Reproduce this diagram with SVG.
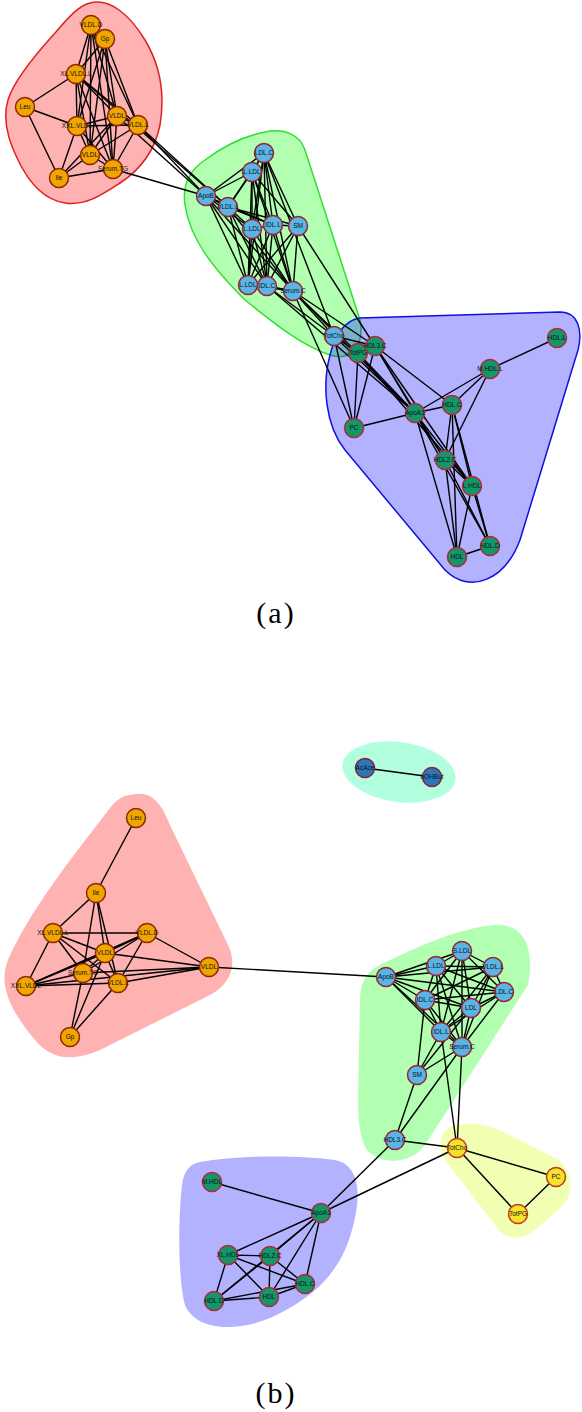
<svg xmlns="http://www.w3.org/2000/svg" width="582" height="1412" viewBox="0 0 582 1412">
<style>
.e line{stroke:#000;stroke-width:1.4}
.n circle{stroke-width:1.5}
.o circle{fill:#F0A500;stroke:#8B2A00}
.lb circle{fill:#5AB4E5;stroke:#9B2335}
.g circle{fill:#12966A;stroke:#B02A3A}
.y circle{fill:#F5E22A;stroke:#C0392B}
.db circle{fill:#2A78B8;stroke:#8B2040}
.n text{font-family:"Liberation Sans",Arial,sans-serif;font-size:6.5px;text-anchor:middle;fill:#111}
.cap{font-family:"Liberation Serif","Times New Roman",serif;font-size:30px;letter-spacing:2px;text-anchor:middle;fill:#000}
</style>
<rect width="582" height="1412" fill="#fff"/>
<g id="hulls">
<path d="M90,3 C110,-2 130,15 145,40 C160,65 165,95 160,125 C155,150 140,170 120,183 C100,196 85,206 65,203 C45,200 30,185 18,160 C8,140 2,120 8,100 C14,80 35,55 55,33 C68,18 78,6 90,3 Z" fill="#f00" fill-opacity="0.3" stroke="#e02020" stroke-width="1.5"/>
<path d="M265,132 C285,128 300,135 305,150 L360,320 C365,345 350,362 330,355 C300,345 270,320 245,300 C215,270 190,240 185,205 C182,185 190,170 205,160 C225,145 245,136 265,132 Z" fill="#0f0" fill-opacity="0.3" stroke="#30e030" stroke-width="1.5"/>
<path d="M360,318 L560,312 C578,312 583,330 578,350 L520,540 C505,580 470,595 445,570 L345,450 C325,425 322,385 330,355 C335,335 345,320 360,318 Z" fill="#00f" fill-opacity="0.3" stroke="#1010e0" stroke-width="1.5"/>
<ellipse cx="399" cy="772" rx="57" ry="30" transform="rotate(8 399 772)" fill="#00ff99" fill-opacity="0.3"/>
<path d="M130,795 C150,790 160,800 170,825 L228,945 C238,965 230,985 210,995 L100,1050 C70,1063 50,1058 35,1040 C10,1010 -2,985 8,960 C30,910 70,860 110,808 C116,800 122,796 130,795 Z" fill="#f00" fill-opacity="0.3"/>
<path d="M380,965 C420,945 460,928 495,925 C525,923 535,950 528,985 L425,1145 C410,1165 380,1165 367,1150 C360,1140 358,1120 358,1100 L360,1000 C360,982 368,970 380,965 Z" fill="#0f0" fill-opacity="0.3"/>
<path d="M450,1127 C470,1120 490,1125 510,1135 L555,1158 C575,1170 575,1195 560,1208 L535,1230 C520,1243 502,1238 495,1225 L445,1160 C437,1148 440,1132 450,1127 Z" fill="#ccff00" fill-opacity="0.3"/>
<path d="M200,1162 C240,1155 300,1155 335,1160 C360,1165 362,1195 352,1230 C340,1275 310,1300 270,1318 C235,1333 195,1330 185,1305 C178,1280 178,1220 182,1185 C184,1170 190,1164 200,1162 Z" fill="#00f" fill-opacity="0.3"/>
</g>
<g id="edges" class="e">
<line x1="91" y1="25" x2="105" y2="39"/><line x1="91" y1="25" x2="76" y2="74"/><line x1="91" y1="25" x2="77" y2="126"/><line x1="91" y1="25" x2="117" y2="116"/><line x1="91" y1="25" x2="138" y2="125"/><line x1="91" y1="25" x2="90" y2="155"/><line x1="91" y1="25" x2="113" y2="169"/>
<line x1="105" y1="39" x2="76" y2="74"/><line x1="105" y1="39" x2="77" y2="126"/><line x1="105" y1="39" x2="117" y2="116"/><line x1="105" y1="39" x2="138" y2="125"/><line x1="105" y1="39" x2="90" y2="155"/><line x1="105" y1="39" x2="113" y2="169"/>
<line x1="76" y1="74" x2="77" y2="126"/><line x1="76" y1="74" x2="117" y2="116"/><line x1="76" y1="74" x2="138" y2="125"/><line x1="76" y1="74" x2="90" y2="155"/><line x1="76" y1="74" x2="113" y2="169"/>
<line x1="77" y1="126" x2="117" y2="116"/><line x1="77" y1="126" x2="138" y2="125"/><line x1="77" y1="126" x2="90" y2="155"/><line x1="77" y1="126" x2="113" y2="169"/>
<line x1="117" y1="116" x2="138" y2="125"/><line x1="117" y1="116" x2="90" y2="155"/><line x1="117" y1="116" x2="113" y2="169"/>
<line x1="138" y1="125" x2="90" y2="155"/><line x1="138" y1="125" x2="113" y2="169"/><line x1="90" y1="155" x2="113" y2="169"/>
<line x1="25" y1="107" x2="76" y2="74"/><line x1="25" y1="107" x2="77" y2="126"/><line x1="25" y1="107" x2="59" y2="178"/>
<line x1="59" y1="178" x2="77" y2="126"/><line x1="59" y1="178" x2="90" y2="155"/><line x1="59" y1="178" x2="113" y2="169"/><line x1="59" y1="178" x2="117" y2="116"/>
<line x1="138" y1="125" x2="206" y2="196"/><line x1="138" y1="125" x2="228" y2="207"/><line x1="117" y1="116" x2="206" y2="196"/><line x1="76" y1="74" x2="228" y2="207"/><line x1="113" y1="169" x2="206" y2="196"/>
<line x1="264" y1="153" x2="252" y2="172"/><line x1="264" y1="153" x2="206" y2="196"/><line x1="264" y1="153" x2="228" y2="207"/><line x1="264" y1="153" x2="252" y2="229"/><line x1="264" y1="153" x2="273" y2="225"/><line x1="264" y1="153" x2="248" y2="285"/><line x1="264" y1="153" x2="267" y2="286"/><line x1="264" y1="153" x2="293" y2="291"/>
<line x1="252" y1="172" x2="206" y2="196"/><line x1="252" y1="172" x2="228" y2="207"/><line x1="252" y1="172" x2="252" y2="229"/><line x1="252" y1="172" x2="273" y2="225"/><line x1="252" y1="172" x2="248" y2="285"/><line x1="252" y1="172" x2="267" y2="286"/><line x1="252" y1="172" x2="293" y2="291"/>
<line x1="206" y1="196" x2="228" y2="207"/><line x1="206" y1="196" x2="252" y2="229"/><line x1="206" y1="196" x2="273" y2="225"/><line x1="206" y1="196" x2="248" y2="285"/><line x1="206" y1="196" x2="267" y2="286"/><line x1="206" y1="196" x2="293" y2="291"/>
<line x1="228" y1="207" x2="252" y2="229"/><line x1="228" y1="207" x2="273" y2="225"/><line x1="228" y1="207" x2="248" y2="285"/><line x1="228" y1="207" x2="267" y2="286"/><line x1="228" y1="207" x2="293" y2="291"/>
<line x1="252" y1="229" x2="273" y2="225"/><line x1="252" y1="229" x2="248" y2="285"/><line x1="252" y1="229" x2="267" y2="286"/><line x1="252" y1="229" x2="293" y2="291"/>
<line x1="273" y1="225" x2="248" y2="285"/><line x1="273" y1="225" x2="267" y2="286"/><line x1="273" y1="225" x2="293" y2="291"/>
<line x1="248" y1="285" x2="267" y2="286"/><line x1="248" y1="285" x2="293" y2="291"/><line x1="267" y1="286" x2="293" y2="291"/>
<line x1="298" y1="226" x2="264" y2="153"/><line x1="298" y1="226" x2="252" y2="172"/><line x1="298" y1="226" x2="273" y2="225"/><line x1="298" y1="226" x2="228" y2="207"/><line x1="298" y1="226" x2="248" y2="285"/><line x1="298" y1="226" x2="267" y2="286"/><line x1="298" y1="226" x2="293" y2="291"/><line x1="298" y1="226" x2="375" y2="346"/>
<line x1="264" y1="153" x2="334" y2="336"/><line x1="293" y1="291" x2="334" y2="336"/><line x1="293" y1="291" x2="358" y2="353"/><line x1="293" y1="291" x2="375" y2="346"/><line x1="293" y1="291" x2="415" y2="413"/><line x1="267" y1="286" x2="415" y2="413"/><line x1="267" y1="286" x2="334" y2="336"/><line x1="293" y1="291" x2="354" y2="428"/>
<line x1="334" y1="336" x2="358" y2="353"/><line x1="334" y1="336" x2="375" y2="346"/><line x1="334" y1="336" x2="354" y2="428"/><line x1="334" y1="336" x2="415" y2="413"/><line x1="358" y1="353" x2="375" y2="346"/><line x1="358" y1="353" x2="354" y2="428"/><line x1="375" y1="346" x2="354" y2="428"/><line x1="375" y1="346" x2="415" y2="413"/><line x1="375" y1="346" x2="452" y2="405"/><line x1="375" y1="346" x2="445" y2="460"/><line x1="358" y1="353" x2="415" y2="413"/><line x1="358" y1="353" x2="472" y2="486"/><line x1="375" y1="346" x2="472" y2="486"/>
<line x1="415" y1="413" x2="490" y2="369"/><line x1="415" y1="413" x2="452" y2="405"/><line x1="415" y1="413" x2="354" y2="428"/><line x1="415" y1="413" x2="445" y2="460"/><line x1="415" y1="413" x2="472" y2="486"/><line x1="415" y1="413" x2="490" y2="546"/><line x1="415" y1="413" x2="457" y2="557"/>
<line x1="490" y1="369" x2="557" y2="338"/><line x1="490" y1="369" x2="452" y2="405"/><line x1="490" y1="369" x2="445" y2="460"/>
<line x1="452" y1="405" x2="445" y2="460"/><line x1="452" y1="405" x2="472" y2="486"/><line x1="452" y1="405" x2="490" y2="546"/><line x1="452" y1="405" x2="457" y2="557"/>
<line x1="445" y1="460" x2="472" y2="486"/><line x1="445" y1="460" x2="490" y2="546"/><line x1="445" y1="460" x2="457" y2="557"/>
<line x1="472" y1="486" x2="490" y2="546"/><line x1="472" y1="486" x2="457" y2="557"/><line x1="490" y1="546" x2="457" y2="557"/>
<line x1="365" y1="768" x2="432" y2="777"/>
<line x1="136" y1="818" x2="96" y2="893"/><line x1="96" y1="893" x2="53" y2="933"/><line x1="96" y1="893" x2="83" y2="973"/><line x1="96" y1="893" x2="105" y2="953"/><line x1="96" y1="893" x2="118" y2="983"/>
<line x1="53" y1="933" x2="147" y2="933"/><line x1="53" y1="933" x2="105" y2="953"/><line x1="53" y1="933" x2="118" y2="983"/><line x1="53" y1="933" x2="83" y2="973"/><line x1="53" y1="933" x2="26" y2="986"/>
<line x1="147" y1="933" x2="105" y2="953"/><line x1="147" y1="933" x2="118" y2="983"/><line x1="147" y1="933" x2="209" y2="967"/><line x1="147" y1="933" x2="83" y2="973"/><line x1="147" y1="933" x2="26" y2="986"/>
<line x1="105" y1="953" x2="209" y2="967"/><line x1="105" y1="953" x2="26" y2="986"/><line x1="105" y1="953" x2="83" y2="973"/><line x1="105" y1="953" x2="70" y2="1037"/><line x1="105" y1="953" x2="118" y2="983"/>
<line x1="83" y1="973" x2="209" y2="967"/><line x1="83" y1="973" x2="26" y2="986"/><line x1="83" y1="973" x2="70" y2="1037"/>
<line x1="26" y1="986" x2="209" y2="967"/><line x1="26" y1="986" x2="118" y2="983"/><line x1="118" y1="983" x2="209" y2="967"/><line x1="118" y1="983" x2="70" y2="1037"/>
<line x1="209" y1="967" x2="386" y2="977"/>
<line x1="462" y1="951" x2="436" y2="966"/><line x1="462" y1="951" x2="493" y2="967"/><line x1="462" y1="951" x2="386" y2="977"/><line x1="462" y1="951" x2="504" y2="992"/><line x1="462" y1="951" x2="425" y2="1000"/><line x1="462" y1="951" x2="471" y2="1008"/><line x1="462" y1="951" x2="441" y2="1032"/><line x1="462" y1="951" x2="462" y2="1047"/>
<line x1="436" y1="966" x2="493" y2="967"/><line x1="436" y1="966" x2="386" y2="977"/><line x1="436" y1="966" x2="504" y2="992"/><line x1="436" y1="966" x2="425" y2="1000"/><line x1="436" y1="966" x2="471" y2="1008"/><line x1="436" y1="966" x2="441" y2="1032"/><line x1="436" y1="966" x2="462" y2="1047"/>
<line x1="493" y1="967" x2="386" y2="977"/><line x1="493" y1="967" x2="504" y2="992"/><line x1="493" y1="967" x2="425" y2="1000"/><line x1="493" y1="967" x2="471" y2="1008"/><line x1="493" y1="967" x2="441" y2="1032"/><line x1="493" y1="967" x2="462" y2="1047"/>
<line x1="386" y1="977" x2="504" y2="992"/><line x1="386" y1="977" x2="425" y2="1000"/><line x1="386" y1="977" x2="471" y2="1008"/><line x1="386" y1="977" x2="441" y2="1032"/><line x1="386" y1="977" x2="462" y2="1047"/>
<line x1="504" y1="992" x2="425" y2="1000"/><line x1="504" y1="992" x2="471" y2="1008"/><line x1="504" y1="992" x2="441" y2="1032"/><line x1="504" y1="992" x2="462" y2="1047"/>
<line x1="425" y1="1000" x2="471" y2="1008"/><line x1="425" y1="1000" x2="441" y2="1032"/><line x1="425" y1="1000" x2="462" y2="1047"/>
<line x1="471" y1="1008" x2="441" y2="1032"/><line x1="471" y1="1008" x2="462" y2="1047"/><line x1="441" y1="1032" x2="462" y2="1047"/>
<line x1="417" y1="1075" x2="425" y2="1000"/><line x1="417" y1="1075" x2="441" y2="1032"/><line x1="417" y1="1075" x2="462" y2="1047"/><line x1="417" y1="1075" x2="471" y2="1008"/><line x1="417" y1="1075" x2="395" y2="1140"/>
<line x1="395" y1="1140" x2="462" y2="1047"/><line x1="441" y1="1032" x2="457" y2="1148"/><line x1="462" y1="1047" x2="457" y2="1148"/><line x1="395" y1="1140" x2="457" y2="1148"/><line x1="395" y1="1140" x2="321" y2="1213"/><line x1="457" y1="1148" x2="321" y2="1213"/>
<line x1="457" y1="1148" x2="556" y2="1177"/><line x1="457" y1="1148" x2="518" y2="1214"/><line x1="556" y1="1177" x2="518" y2="1214"/>
<line x1="212" y1="1182" x2="321" y2="1213"/><line x1="321" y1="1213" x2="228" y2="1255"/><line x1="321" y1="1213" x2="270" y2="1256"/><line x1="321" y1="1213" x2="305" y2="1284"/><line x1="321" y1="1213" x2="269" y2="1297"/><line x1="321" y1="1213" x2="214" y2="1301"/>
<line x1="228" y1="1255" x2="270" y2="1256"/><line x1="228" y1="1255" x2="305" y2="1284"/><line x1="228" y1="1255" x2="269" y2="1297"/><line x1="228" y1="1255" x2="214" y2="1301"/>
<line x1="270" y1="1256" x2="214" y2="1301"/><line x1="270" y1="1256" x2="269" y2="1297"/><line x1="270" y1="1256" x2="305" y2="1284"/>
<line x1="305" y1="1284" x2="269" y2="1297"/><line x1="305" y1="1284" x2="214" y2="1301"/><line x1="214" y1="1301" x2="269" y2="1297"/>
</g>
<g id="aVLDLD" class="n o"><circle cx="91" cy="25" r="9.5"/><text x="91" y="27.3">VLDL.D</text></g>
<g id="aGp" class="n o"><circle cx="105" cy="39" r="9.5"/><text x="105" y="41.3">Gp</text></g>
<g id="aXLVLDLL" class="n o"><circle cx="76" cy="74" r="9.5"/><text x="76" y="76.3">XL.VLDL.L</text></g>
<g id="aLeu" class="n o"><circle cx="25" cy="107" r="9.5"/><text x="25" y="109.3">Leu</text></g>
<g id="aXXLVLDL" class="n o"><circle cx="77" cy="126" r="9.5"/><text x="77" y="128.3">XXL.VLDL</text></g>
<g id="aMVLDL" class="n o"><circle cx="117" cy="116" r="9.5"/><text x="117" y="118.3">VLDL</text></g>
<g id="aLVLDL" class="n o"><circle cx="138" cy="125" r="9.5"/><text x="138" y="127.3">VLDL.L</text></g>
<g id="aSVLDL" class="n o"><circle cx="90" cy="155" r="9.5"/><text x="90" y="157.3">VLDL</text></g>
<g id="aSerumTG" class="n o"><circle cx="113" cy="169" r="9.5"/><text x="113" y="171.3">Serum.TG</text></g>
<g id="aIle" class="n o"><circle cx="59" cy="178" r="9.5"/><text x="59" y="180.3">Ile</text></g>
<g id="aLDLC" class="n lb"><circle cx="264" cy="153" r="9.5"/><text x="264" y="155.3">LDL.C</text></g>
<g id="aLLDL1" class="n lb"><circle cx="252" cy="172" r="9.5"/><text x="252" y="174.3">L.LDL</text></g>
<g id="aApoB" class="n lb"><circle cx="206" cy="196" r="9.5"/><text x="206" y="198.3">ApoB</text></g>
<g id="aVLDLL" class="n lb"><circle cx="228" cy="207" r="9.5"/><text x="228" y="209.3">VLDL.L</text></g>
<g id="aLLDL2" class="n lb"><circle cx="252" cy="229" r="9.5"/><text x="252" y="231.3">L.LDL</text></g>
<g id="aIDLL" class="n lb"><circle cx="273" cy="225" r="9.5"/><text x="273" y="227.3">IDL.L</text></g>
<g id="aSM" class="n lb"><circle cx="298" cy="226" r="9.5"/><text x="298" y="228.3">SM</text></g>
<g id="aLLDL3" class="n lb"><circle cx="248" cy="285" r="9.5"/><text x="248" y="287.3">L.LDL</text></g>
<g id="aIDLC" class="n lb"><circle cx="267" cy="286" r="9.5"/><text x="267" y="288.3">IDL.C</text></g>
<g id="aSerumC" class="n lb"><circle cx="293" cy="291" r="9.5"/><text x="293" y="293.3">Serum.C</text></g>
<g id="aTotCho" class="n lb"><circle cx="334" cy="336" r="9.5"/><text x="334" y="338.3">TotCho</text></g>
<g id="aTotPG" class="n g"><circle cx="358" cy="353" r="9.5"/><text x="358" y="355.3">TotPG</text></g>
<g id="aHDL3C" class="n g"><circle cx="375" cy="346" r="9.5"/><text x="375" y="348.3">HDL3.C</text></g>
<g id="aSHDLL" class="n g"><circle cx="557" cy="338" r="9.5"/><text x="557" y="340.3">HDL.L</text></g>
<g id="aMHDLL" class="n g"><circle cx="490" cy="369" r="9.5"/><text x="490" y="371.3">M.HDL.L</text></g>
<g id="aHDLC" class="n g"><circle cx="452" cy="405" r="9.5"/><text x="452" y="407.3">HDL.C</text></g>
<g id="aApoA1" class="n g"><circle cx="415" cy="413" r="9.5"/><text x="415" y="415.3">ApoA1</text></g>
<g id="aPC" class="n g"><circle cx="354" cy="428" r="9.5"/><text x="354" y="430.3">PC</text></g>
<g id="aHDL2C" class="n g"><circle cx="445" cy="460" r="9.5"/><text x="445" y="462.3">HDL2.C</text></g>
<g id="aLHDL" class="n g"><circle cx="472" cy="486" r="9.5"/><text x="472" y="488.3">L.HDL</text></g>
<g id="aHDLD" class="n g"><circle cx="490" cy="546" r="9.5"/><text x="490" y="548.3">HDL.D</text></g>
<g id="aXLHDL" class="n g"><circle cx="457" cy="557" r="9.5"/><text x="457" y="559.3">HDL</text></g>
<g id="bAcAce" class="n db"><circle cx="365" cy="768" r="9.5"/><text x="365" y="770.3">AcAce</text></g>
<g id="bbOHBut" class="n db"><circle cx="432" cy="777" r="9.5"/><text x="432" y="779.3">bOHBut</text></g>
<g id="bLeu" class="n o"><circle cx="136" cy="818" r="9.5"/><text x="136" y="820.3">Leu</text></g>
<g id="bIle" class="n o"><circle cx="96" cy="893" r="9.5"/><text x="96" y="895.3">Ile</text></g>
<g id="bXLVLDLL" class="n o"><circle cx="53" cy="933" r="9.5"/><text x="53" y="935.3">XL.VLDL.L</text></g>
<g id="bVLDLD" class="n o"><circle cx="147" cy="933" r="9.5"/><text x="147" y="935.3">VLDL.D</text></g>
<g id="bMVLDL" class="n o"><circle cx="105" cy="953" r="9.5"/><text x="105" y="955.3">VLDL</text></g>
<g id="bSerumTG" class="n o"><circle cx="83" cy="973" r="9.5"/><text x="83" y="975.3">Serum.TG</text></g>
<g id="bXXLVLDL" class="n o"><circle cx="26" cy="986" r="9.5"/><text x="26" y="988.3">XXL.VLDL</text></g>
<g id="bLVLDL" class="n o"><circle cx="118" cy="983" r="9.5"/><text x="118" y="985.3">VLDL.L</text></g>
<g id="bVLDL" class="n o"><circle cx="209" cy="967" r="9.5"/><text x="209" y="969.3">VLDL</text></g>
<g id="bGp" class="n o"><circle cx="70" cy="1037" r="9.5"/><text x="70" y="1039.3">Gp</text></g>
<g id="bSLDL" class="n lb"><circle cx="462" cy="951" r="9.5"/><text x="462" y="953.3">S.LDL</text></g>
<g id="bLLDL" class="n lb"><circle cx="436" cy="966" r="9.5"/><text x="436" y="968.3">L.LDL</text></g>
<g id="bVLDLL" class="n lb"><circle cx="493" cy="967" r="9.5"/><text x="493" y="969.3">VLDL.L</text></g>
<g id="bApoB" class="n lb"><circle cx="386" cy="977" r="9.5"/><text x="386" y="979.3">ApoB</text></g>
<g id="bLDLC" class="n lb"><circle cx="504" cy="992" r="9.5"/><text x="504" y="994.3">LDL.C</text></g>
<g id="bIDLC" class="n lb"><circle cx="425" cy="1000" r="9.5"/><text x="425" y="1002.3">IDL.C</text></g>
<g id="bLDL" class="n lb"><circle cx="471" cy="1008" r="9.5"/><text x="471" y="1010.3">LDL</text></g>
<g id="bIDLL" class="n lb"><circle cx="441" cy="1032" r="9.5"/><text x="441" y="1034.3">IDL.L</text></g>
<g id="bSerumC" class="n lb"><circle cx="462" cy="1047" r="9.5"/><text x="462" y="1049.3">Serum.C</text></g>
<g id="bSM" class="n lb"><circle cx="417" cy="1075" r="9.5"/><text x="417" y="1077.3">SM</text></g>
<g id="bHDL3C" class="n lb"><circle cx="395" cy="1140" r="9.5"/><text x="395" y="1142.3">HDL3.C</text></g>
<g id="bTotCho" class="n y"><circle cx="457" cy="1148" r="9.5"/><text x="457" y="1150.3">TotCho</text></g>
<g id="bPC" class="n y"><circle cx="556" cy="1177" r="9.5"/><text x="556" y="1179.3">PC</text></g>
<g id="bTotPG" class="n y"><circle cx="518" cy="1214" r="9.5"/><text x="518" y="1216.3">TotPG</text></g>
<g id="bMHDL" class="n g"><circle cx="212" cy="1182" r="9.5"/><text x="212" y="1184.3">M.HDL</text></g>
<g id="bApoA1" class="n g"><circle cx="321" cy="1213" r="9.5"/><text x="321" y="1215.3">ApoA1</text></g>
<g id="bXLHDL" class="n g"><circle cx="228" cy="1255" r="9.5"/><text x="228" y="1257.3">XL.HDL</text></g>
<g id="bHDL2C" class="n g"><circle cx="270" cy="1256" r="9.5"/><text x="270" y="1258.3">HDL2.C</text></g>
<g id="bHDLC" class="n g"><circle cx="305" cy="1284" r="9.5"/><text x="305" y="1286.3">HDL.C</text></g>
<g id="bHDLD" class="n g"><circle cx="214" cy="1301" r="9.5"/><text x="214" y="1303.3">HDL.D</text></g>
<g id="bLHDL" class="n g"><circle cx="269" cy="1297" r="9.5"/><text x="269" y="1299.3">HDL</text></g>
<g id="captions">
<text class="cap" x="276" y="623">(a)</text>
<text class="cap" x="276" y="1403">(b)</text>
</g>
</svg>
